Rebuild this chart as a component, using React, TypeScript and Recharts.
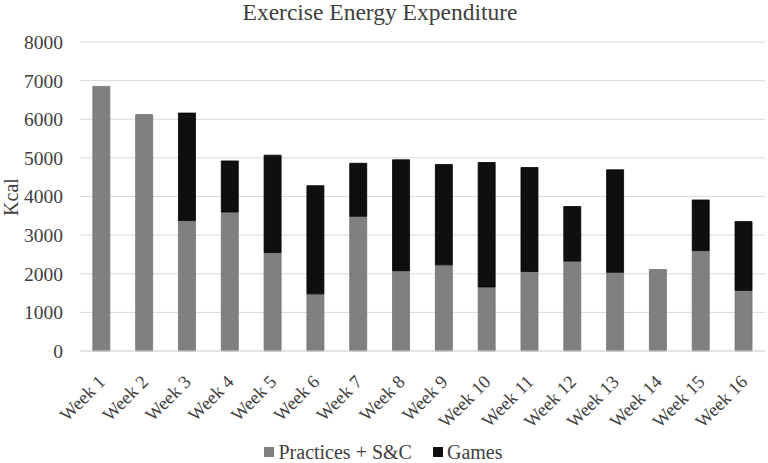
import React from 'react';
import { BarChart, Bar, XAxis, YAxis, CartesianGrid, Legend } from 'recharts';

const weeks = ['Week 1', 'Week 2', 'Week 3', 'Week 4', 'Week 5', 'Week 6', 'Week 7', 'Week 8', 'Week 9', 'Week 10', 'Week 11', 'Week 12', 'Week 13', 'Week 14', 'Week 15', 'Week 16'];
const practices = [6850, 6120, 3380, 3600, 2550, 1480, 3490, 2080, 2230, 1660, 2060, 2330, 2040, 2110, 2600, 1570];
const games = [0, 0, 2780, 1320, 2520, 2800, 1370, 2870, 2600, 3220, 2690, 1410, 2650, 0, 1310, 1780];
const yTicks = [0, 1000, 2000, 3000, 4000, 5000, 6000, 7000, 8000];

const data = weeks.map((w, i) => ({ week: w, practices: practices[i], games: games[i] }));

const FONT = '"Liberation Serif", "Times New Roman", serif';
const TEXT = '#404040';
const GRAY = '#808080';
const BLACK = '#0f0f0f';

const XTick = (props: any) => {
  const { x, y, payload } = props;
  const ax = 5;
  const ay = 32;
  return (
    <g transform={`translate(${x},${y})`}>
      <text x={ax} y={ay} transform={`rotate(-45 ${ax} ${ay})`} textAnchor="end" fontFamily={FONT} fontSize={18.5} fill={TEXT}>
        {payload.value}
      </text>
    </g>
  );
};

const LegendContent = () => (
  <div style={{ height: 32, display: 'flex', justifyContent: 'center', alignItems: 'flex-start', paddingTop: 11, boxSizing: 'border-box', fontFamily: FONT, fontSize: 20, color: TEXT, lineHeight: '20px', paddingLeft: 2 }}>
    <span style={{ display: 'inline-flex', alignItems: 'center' }}>
      <span style={{ width: 10, height: 10, background: GRAY, display: 'inline-block', marginRight: 4 }} />
      Practices + S&amp;C
    </span>
    <span style={{ display: 'inline-flex', alignItems: 'center', marginLeft: 21 }}>
      <span style={{ width: 10, height: 10, background: BLACK, display: 'inline-block', marginRight: 4 }} />
      Games
    </span>
  </div>
);

export default function App() {
  return (
    <div style={{ position: 'absolute', left: 0, top: 0, width: 768, height: 463, background: '#fff' }}>
      <div style={{ position: 'absolute', left: 0, top: 0, width: 760, textAlign: 'center', fontFamily: FONT, fontSize: 23.5, lineHeight: '24px', color: TEXT }}>
        Exercise Energy Expenditure
      </div>
      <BarChart width={768} height={463} data={data} margin={{ top: 42, right: 3, left: 0, bottom: 0 }} barCategoryGap="30%">
        <CartesianGrid vertical={false} stroke="#d9d9d9" strokeWidth={1} />
        <XAxis
          dataKey="week"
          height={80}
          interval={0}
          tickLine={false}
          tickSize={0}
          tickMargin={0}
          axisLine={{ stroke: '#d9d9d9' }}
          tick={<XTick />}
        />
        <YAxis
          width={80}
          domain={[0, 8000]}
          ticks={yTicks}
          tickLine={false}
          axisLine={false}
          tickSize={0}
          tickMargin={17}
          tick={{ fontFamily: FONT, fontSize: 19.5, fill: TEXT }}
          label={() => (
            <text x={18} y={197} transform="rotate(-90 18 197)" textAnchor="middle" fontFamily={FONT} fontSize={20} fill={TEXT}>
              Kcal
            </text>
          )}
        />
        <Legend verticalAlign="bottom" content={<LegendContent />} />
        <Bar dataKey="practices" stackId="a" fill={GRAY} stroke="#747474" strokeWidth={0.8} isAnimationActive={false} />
        <Bar dataKey="games" stackId="a" fill={BLACK} stroke="#000" strokeWidth={0.8} isAnimationActive={false} />
      </BarChart>
    </div>
  );
}
